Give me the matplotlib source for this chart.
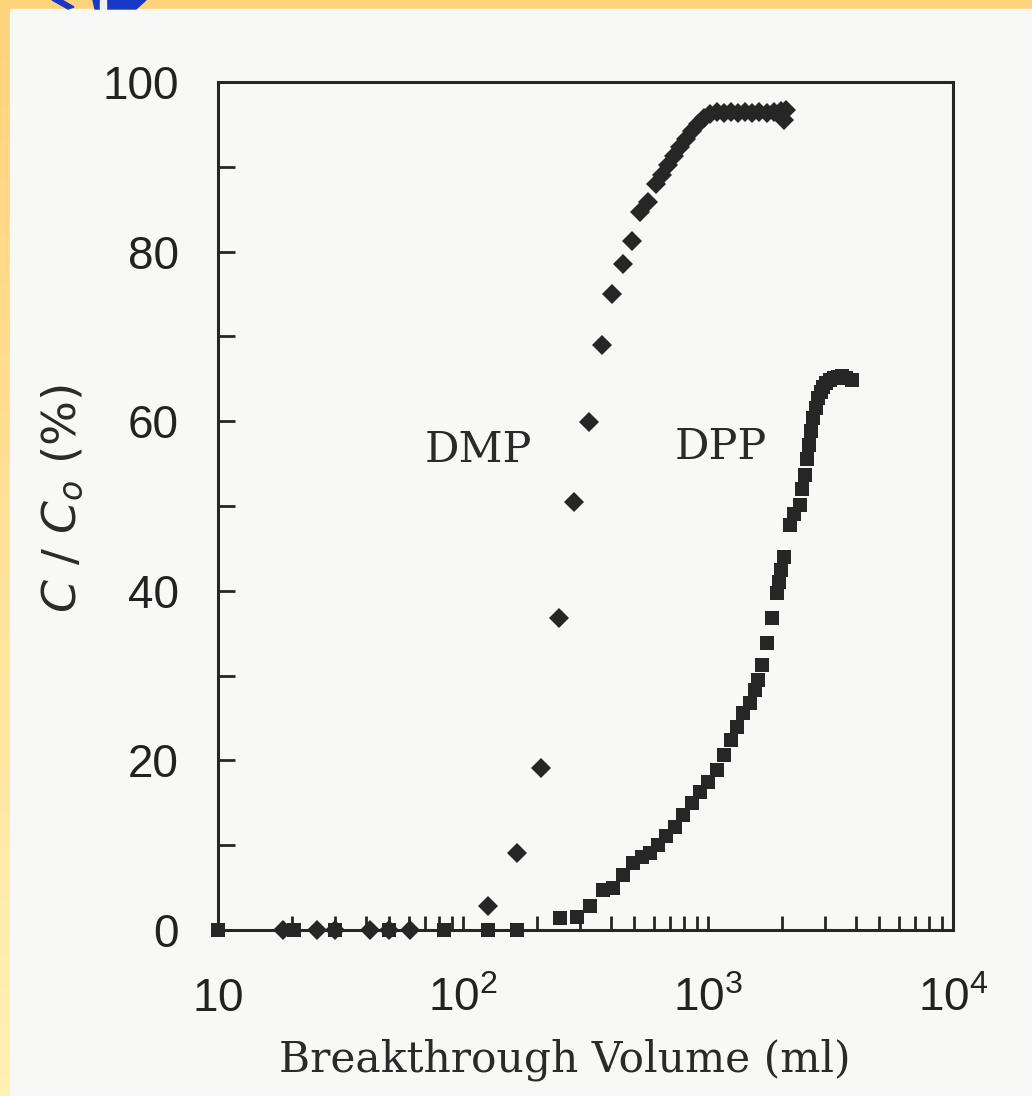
import numpy as np
import matplotlib
matplotlib.use("Agg")
import matplotlib.pyplot as plt
from matplotlib.colors import LinearSegmentedColormap
from matplotlib.patches import Rectangle, Polygon
from matplotlib.ticker import FixedLocator, LogLocator, NullFormatter

# DMP breakthrough (diamonds)
dmp_vol = [18.4, 25.3, 30, 41.7, 50, 60.8, 126, 166, 208, 246, 284, 327, 369, 405,
           450, 489, 528, 569, 613, 649, 687, 727, 769, 813, 861, 910, 963, 1019,
           1088, 1162, 1241, 1329, 1420, 1518, 1622, 1734, 1852, 1980, 2043, 2090]
dmp_pct = [0, 0, 0, 0, 0, 0, 2.8, 9.1, 19.1, 36.8, 50.5, 59.9, 69.0, 75.0,
           78.5, 81.3, 84.7, 85.8, 88.0, 89.0, 90.2, 91.3, 92.3, 93.3, 94.2, 95.0, 95.8, 96.2,
           96.5, 96.3, 96.5, 96.3, 96.5, 96.3, 96.5, 96.3, 96.5, 96.6, 95.5, 96.7]

# DPP breakthrough (squares)
dpp_vol = [10, 20.5, 30, 50, 84, 126, 166, 249, 292, 330, 372, 409, 450, 494, 538,
           580, 625, 674, 733, 791, 861, 928, 1000, 1088, 1162, 1241, 1313, 1390, 1483,
           1555, 1600, 1661, 1741, 1825, 1913, 1950, 1986, 2043, 2162, 2250, 2376, 2430,
           2490, 2540, 2584, 2630, 2684, 2750, 2813, 2880, 2946, 3040, 3147, 3270, 3394,
           3520, 3657, 3869]
dpp_pct = [0, 0, 0, 0, 0, 0, 0, 1.4, 1.5, 2.8, 4.7, 5.0, 6.5, 7.9, 8.6,
           9.1, 10.0, 11.1, 12.1, 13.6, 15.0, 16.3, 17.5, 18.9, 20.6, 22.4, 23.9, 25.6, 26.8,
           28.3, 29.5, 31.3, 33.8, 36.8, 39.7, 41.0, 42.5, 44.0, 47.8, 49.0, 50.1, 52.0,
           53.7, 55.5, 57.2, 58.8, 60.4, 61.6, 62.7, 63.4, 64.0, 64.5, 64.9, 65.1, 65.2,
           65.3, 65.1, 64.9]

y_ticks = [0, 20, 40, 60, 80, 100]
y_minor = [10, 30, 50, 70, 90]
x_ticks = [10, 100, 1000, 10000]
x_ticklabels = ["$10$", "$10^2$", "$10^3$", "$10^4$"]

plt.rcParams["mathtext.fontset"] = "custom"
plt.rcParams["mathtext.rm"] = "Liberation Sans"
plt.rcParams["mathtext.it"] = "Liberation Sans:italic"

W, H = 1032, 1096
fig = plt.figure(figsize=(W / 100, H / 100), dpi=100)

# slide background (yellow gradient) and the scanned page on top of it
bg = fig.add_axes([0, 0, 1, 1])
bg.set_axis_off()
cmap = LinearSegmentedColormap.from_list("slide", ["#ffd27c", "#fff1b4"])
bg.imshow(np.linspace(0, 1, 256).reshape(-1, 1), cmap=cmap, aspect="auto",
          extent=[0, W, H, 0])
bg.add_patch(Rectangle((10, 9), W - 10, H - 9, color="#f8f8f6"))
bg.add_patch(Polygon([(52, 0), (62, 0), (74, 7), (68, 9)], color="#1838c8"))
bg.add_patch(Polygon([(93, 0), (146, 0), (136, 9), (95, 9)], color="#1838c8"))
bg.add_patch(Polygon([(100, 0), (106, 0), (106, 9), (100, 9)], color="#f0f0f0"))
bg.set_xlim(0, W)
bg.set_ylim(H, 0)

ax = fig.add_axes([218 / W, 1 - 930 / H, 735 / W, 848 / H])
ax.set_facecolor("none")
ax.set_xscale("log")
ax.set_xlim(10, 1e4)
ax.set_ylim(0, 100)

ink = "#262626"
ax.plot(dmp_vol, dmp_pct, "D", ms=10, color=ink, mew=0, clip_on=False)
ax.plot(dpp_vol, dpp_pct, "s", ms=10.5, color=ink, mew=0, clip_on=False)

for s in ax.spines.values():
    s.set_linewidth(2.2)
    s.set_color(ink)

ax.set_yticks(y_ticks)
ax.set_yticklabels([str(v) for v in y_ticks])
ax.yaxis.set_minor_locator(FixedLocator(y_minor))
ax.set_xticks(x_ticks)
ax.set_xticklabels(x_ticklabels)
ax.xaxis.set_minor_locator(LogLocator(base=10, subs=range(2, 10)))
ax.xaxis.set_minor_formatter(NullFormatter())
ax.tick_params(which="both", direction="in", width=2, color=ink, top=False, right=False)
ax.tick_params(axis="y", which="both", length=12, pad=28)
ax.tick_params(axis="x", which="both", length=10, pad=58)
for lbl in ax.get_yticklabels():
    lbl.set_family("Liberation Sans")
    lbl.set_fontsize(33)
    lbl.set_color("#222222")
for lbl in ax.get_xticklabels():
    lbl.set_fontsize(33)
    lbl.set_color("#222222")
    lbl.set_verticalalignment("baseline")

ax.text(115, 56.6, "DMP", family="DejaVu Serif", fontsize=31, color="#2a2a2a",
        ha="center", va="center")
ax.text(1130, 57, "DPP", family="DejaVu Serif", fontsize=31, color="#2a2a2a",
        ha="center", va="center")

fig.text(565 / W, 1 - 1060 / H, "Breakthrough Volume (ml)", family="DejaVu Serif",
         fontsize=30.5, color="#2a2a2a", ha="center", va="center")
fig.text(63 / W, 1 - 498 / H, r"$C\ /\ C_o\ (\%)$", math_fontfamily="dejavusans",
         fontsize=34, color="#2a2a2a", rotation=90, ha="center", va="center")

fig.savefig("out.png", dpi=100)
